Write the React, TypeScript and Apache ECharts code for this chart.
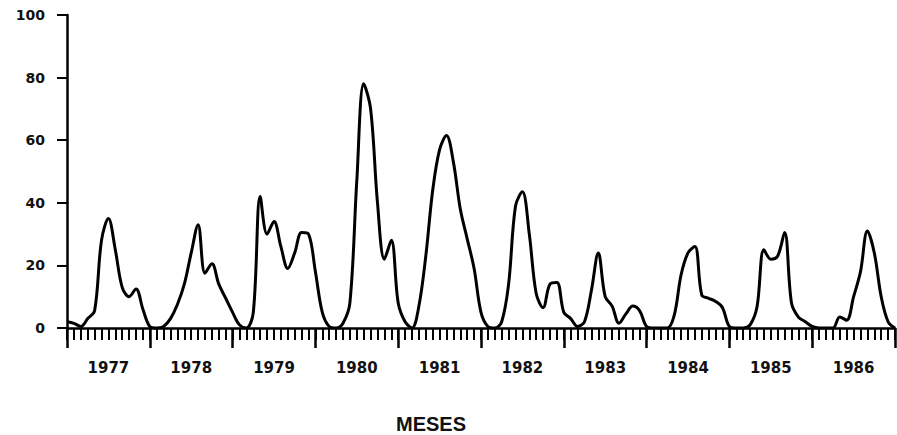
import React, { useEffect, useRef } from "react";
import * as echarts from "echarts";

const years = [1977, 1978, 1979, 1980, 1981, 1982, 1983, 1984, 1985, 1986];
const yTicks = [0, 20, 40, 60, 80, 100];
const monthlyValues = [
  2, 1.5, 0.5, 3, 5.5, 28, 35, 25, 13, 10, 12.5, 6,
  0.5, 0, 0.5, 3, 7.5, 14, 24, 33, 17.5, 20.5, 14, 9.5,
  5, 1, 0, 5, 42, 30, 34, 26, 19, 24, 30.5, 30,
  18, 5, 0.5, 0, 1.5, 8, 47, 78, 70, 40, 22, 28,
  8, 2, 0, 7, 23, 44, 57, 61.5, 53, 38, 28.5, 19,
  5, 0.5, 0, 2, 14, 39, 43.5, 30, 11, 6.5, 14, 14.5,
  5, 3, 0.5, 2, 12, 24, 10, 7, 1.5, 4.5, 7, 5.5,
  0.5, 0, 0, 0, 4, 17, 24, 26, 10.5, 9.5, 8.5, 6.5,
  0.5, 0, 0, 1, 6.7, 25, 22, 23, 30.5, 8, 3.5, 2,
  0.5, 0, 0, 0, 3.5, 2.5, 10, 18, 31, 24, 10, 2, 0,
];
const xTitle = "MESES";

const months: string[] = [];
years.forEach((y) => {
  for (let m = 1; m <= 12; m++) months.push(`${y}-${String(m).padStart(2, "0")}`);
});
months.push(`${years[years.length - 1] + 1}-01`);

export default function App() {
  const ref = useRef<HTMLDivElement>(null);
  useEffect(() => {
    document.body.style.margin = "0";
    const chart = echarts.init(ref.current!, null, { renderer: "svg" });
    const labelFont = {
      fontFamily: "DejaVu Sans",
      fontWeight: "bold" as const,
      color: "#111",
    };
    chart.setOption({
      animation: false,
      backgroundColor: "#fff",
      grid: { left: 67, right: 2, top: 15, bottom: 107 },
      xAxis: [
        {
          type: "category",
          data: months,
          boundaryGap: false,
          axisLine: { show: true, lineStyle: { color: "#000", width: 2.5 } },
          axisTick: {
            show: true,
            interval: 0,
            length: 12,
            lineStyle: { color: "#000", width: 2 },
          },
          axisLabel: {
            interval: (idx: number) => idx % 12 === 6,
            formatter: (v: string) => v.slice(0, 4),
            margin: 32,
            fontSize: 15,
            ...labelFont,
          },
          splitLine: { show: false },
        },
        {
          type: "category",
          data: months,
          boundaryGap: false,
          position: "bottom",
          axisLine: { show: false },
          axisTick: {
            show: true,
            interval: (idx: number) => idx % 12 === 0,
            length: 20,
            lineStyle: { color: "#000", width: 2.5 },
          },
          axisLabel: { show: false },
          splitLine: { show: false },
        },
      ],
      yAxis: {
        type: "value",
        min: 0,
        max: 100,
        interval: 20,
        axisLine: { show: true, lineStyle: { color: "#000", width: 2.5 } },
        axisTick: { show: true, length: 10, lineStyle: { color: "#000", width: 2 } },
        axisLabel: {
          margin: 22,
          fontSize: 14,
          ...labelFont,
          formatter: (v: number) => (yTicks.includes(v) ? String(v) : ""),
        },
        splitLine: { show: false },
      },
      graphic: [
        {
          type: "text",
          x: 431,
          y: 424,
          style: {
            text: xTitle,
            align: "center",
            verticalAlign: "middle",
            fontFamily: "Liberation Sans",
            fontSize: 20,
            fontWeight: "bold",
            fill: "#111",
          },
        },
      ],
      series: [
        {
          type: "line",
          data: monthlyValues,
          xAxisIndex: 0,
          smooth: 0.35,
          symbol: "none",
          lineStyle: { color: "#000", width: 3 },
        },
      ],
    });
    return () => chart.dispose();
  }, []);
  return <div ref={ref} style={{ width: 897, height: 435 }} />;
}
